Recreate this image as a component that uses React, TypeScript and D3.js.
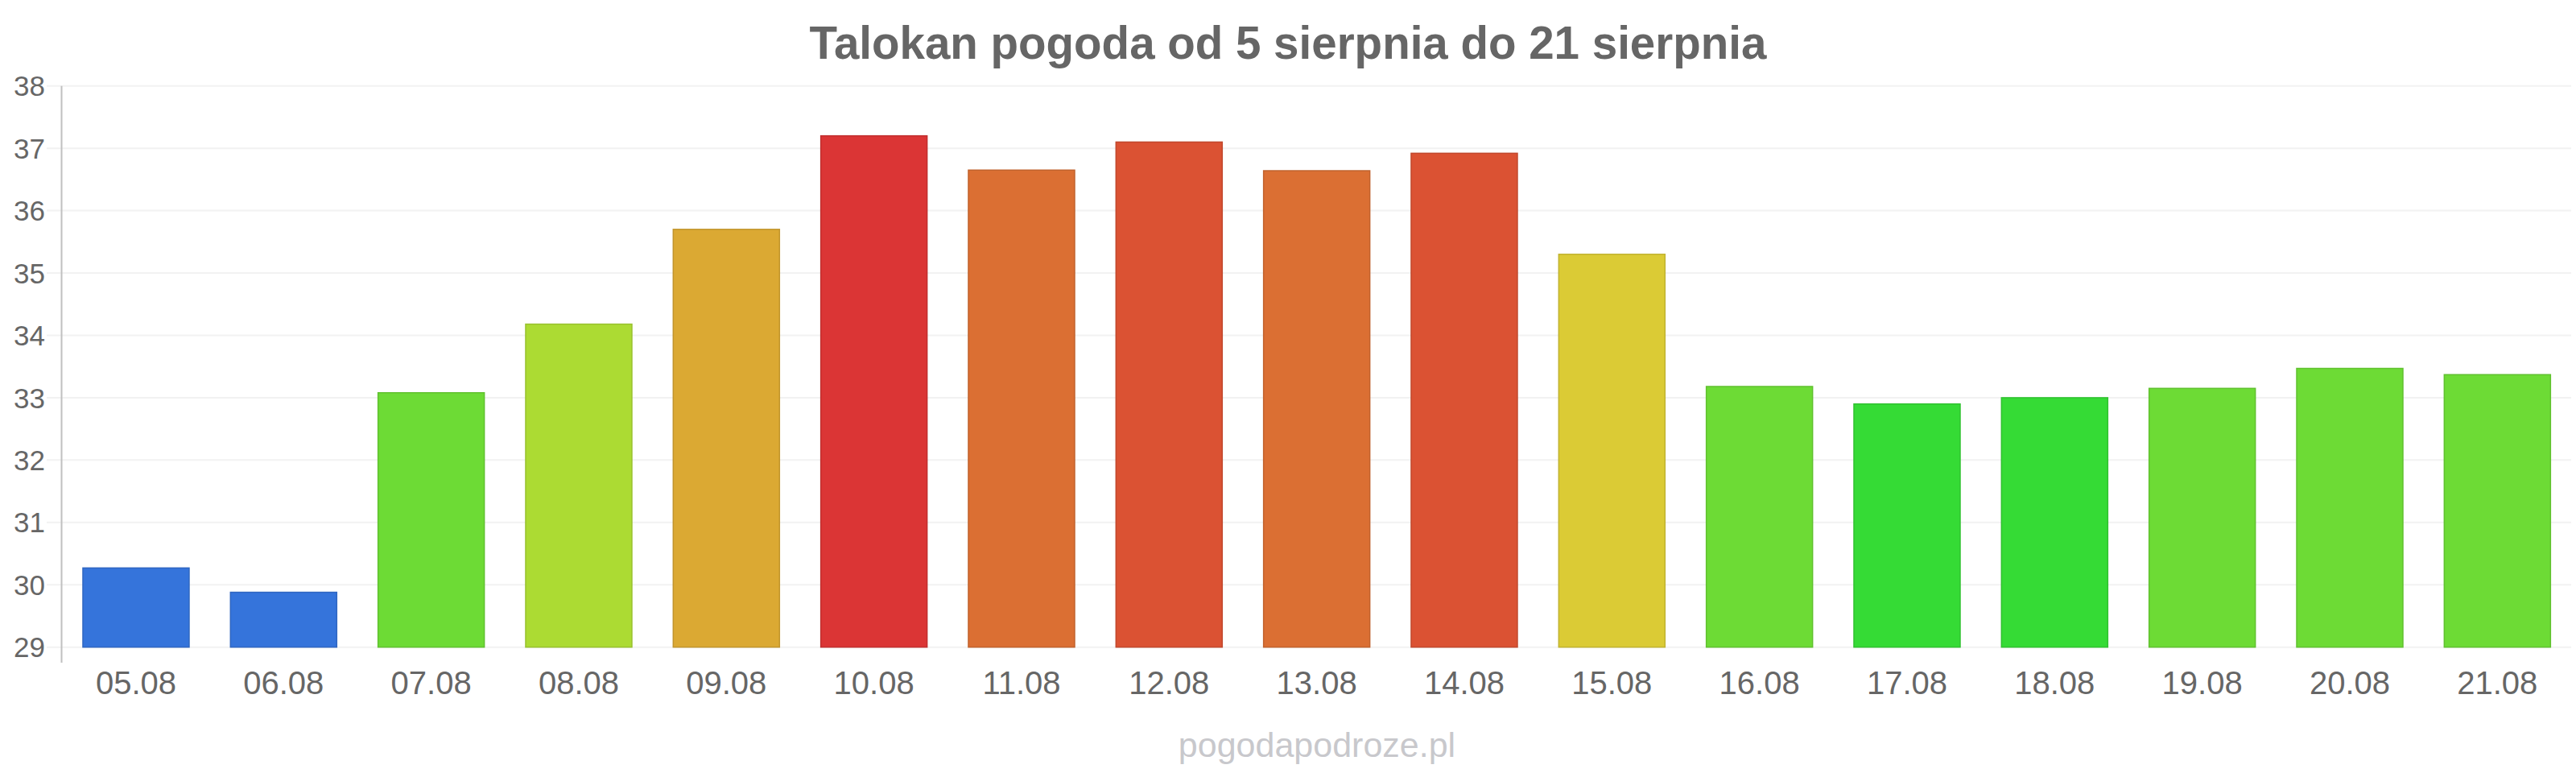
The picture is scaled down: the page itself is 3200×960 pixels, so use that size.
import React, { useEffect, useRef } from "react";
import * as d3 from "d3";

/* DATA */
const days = [
  "05.08", "06.08", "07.08", "08.08", "09.08", "10.08", "11.08", "12.08", "13.08",
  "14.08", "15.08", "16.08", "17.08", "18.08", "19.08", "20.08", "21.08",
];
const temps = [
  30.27, 29.88, 33.08, 34.18, 35.7, 37.2, 36.65, 37.1, 36.64, 36.92, 35.3, 33.18, 32.9, 33.0,
  33.15, 33.47, 33.37,
];
const yTicks = [29, 30, 31, 32, 33, 34, 35, 36, 37, 38];
const title = "Talokan pogoda od 5 sierpnia do 21 sierpnia";
const credit = "pogodapodroze.pl";

/* temperature buckets -> bar colour */
const tempSteps = [31, 33.05, 34, 35, 35.5, 36.5, 36.8, 37.15];
const tempColors = [
  "#3574db", "#35db35", "#6ddb35", "#acdb33", "#dbcb35",
  "#dba933", "#db6f33", "#db5233", "#db3535",
];

const App = () => {
  const ref = useRef<SVGSVGElement>(null);

  useEffect(() => {
    /* SVG Size & Style */
    const width = 3200;
    const height = 960;
    const fontFamily = "'Liberation Sans', Arial, sans-serif";
    const textColor = "#666666";

    const left = 77.3;
    const right = 3194;
    const top = 106.7;
    const bottom = 803.7;

    const svg = d3.select(ref.current);
    svg.selectAll("*").remove();
    svg.attr("width", width).attr("height", height);

    svg.append("rect").attr("width", width).attr("height", height).attr("fill", "#ffffff");

    /* scales */
    const x = d3.scaleBand().domain(days).range([left, right]).paddingInner(0.28).paddingOuter(0.14);
    const y = d3.scaleLinear().domain([29, 38]).range([bottom, top]);
    const color = d3.scaleThreshold<number, string>().domain(tempSteps).range(tempColors);

    /* grid */
    svg
      .append("g")
      .selectAll("line")
      .data(yTicks)
      .join("line")
      .attr("x1", 58)
      .attr("x2", right)
      .attr("y1", (d) => y(d))
      .attr("y2", (d) => y(d))
      .attr("stroke", "#f2f2f2")
      .attr("stroke-width", 2);

    /* y labels */
    svg
      .append("g")
      .selectAll("text")
      .data(yTicks)
      .join("text")
      .attr("x", 56)
      .attr("y", (d) => y(d))
      .attr("dy", "0.36em")
      .attr("text-anchor", "end")
      .attr("font-family", fontFamily)
      .attr("font-size", 35)
      .attr("fill", textColor)
      .text((d) => d);

    /* y axis line */
    svg
      .append("line")
      .attr("x1", 76.5)
      .attr("x2", 76.5)
      .attr("y1", top)
      .attr("y2", 823)
      .attr("stroke", "#c0c0c0")
      .attr("stroke-width", 2);

    /* bars */
    svg
      .append("g")
      .selectAll("rect")
      .data(temps)
      .join("rect")
      .attr("x", (d, i) => x(days[i])!)
      .attr("width", x.bandwidth())
      .attr("y", (d) => y(d))
      .attr("height", (d) => y(29) - y(d))
      .attr("fill", (d) => color(d))
      .attr("stroke", (d) => d3.color(color(d))!.darker(0.35).formatHex())
      .attr("stroke-width", 1.5);

    /* x labels */
    svg
      .append("g")
      .selectAll("text")
      .data(days)
      .join("text")
      .attr("x", (d) => x(d)! + x.bandwidth() / 2)
      .attr("y", 862)
      .attr("text-anchor", "middle")
      .attr("font-family", fontFamily)
      .attr("font-size", 40)
      .attr("fill", textColor)
      .text((d) => d);

    /* title */
    svg
      .append("text")
      .attr("x", 1600)
      .attr("y", 73)
      .attr("text-anchor", "middle")
      .attr("font-family", fontFamily)
      .attr("font-weight", "bold")
      .attr("font-size", 56.5)
      .attr("fill", textColor)
      .text(title);

    /* credit */
    svg
      .append("text")
      .attr("x", 1636)
      .attr("y", 940)
      .attr("text-anchor", "middle")
      .attr("font-family", fontFamily)
      .attr("font-size", 43)
      .attr("fill", "#c8c8cc")
      .text(credit);
  }, []);

  return (
    <div style={{ position: "absolute", left: 0, top: 0 }}>
      <svg ref={ref} style={{ display: "block" }} />
    </div>
  );
};

export default App;
